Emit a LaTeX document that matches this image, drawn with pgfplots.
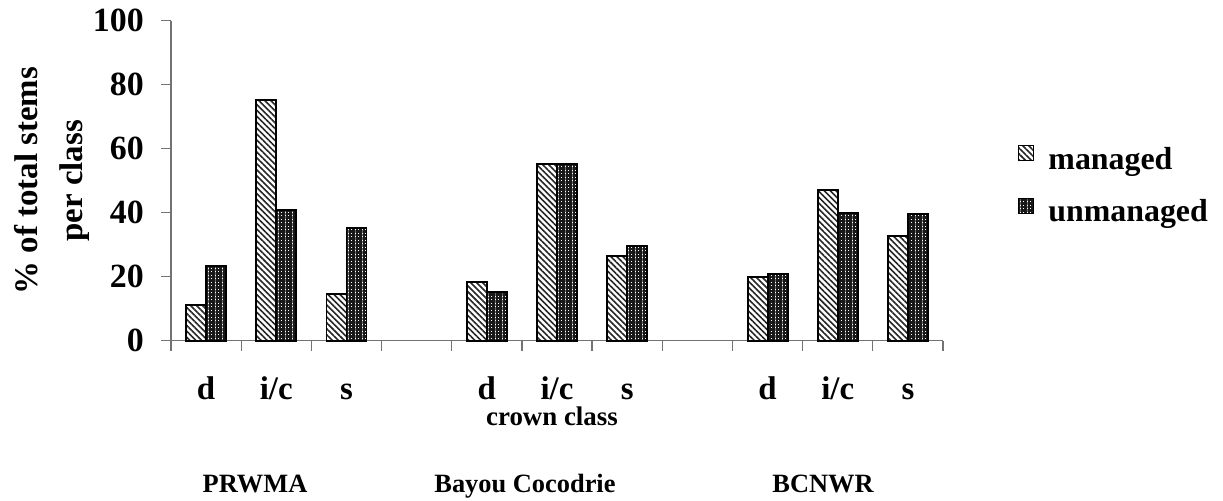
\documentclass[border=0pt]{standalone}
\usepackage{fontspec}
\setmainfont{Liberation Serif}
\usepackage{pgfplots}
\pgfplotsset{compat=1.18}
\usetikzlibrary{patterns.meta}
\begin{document}
\begin{tikzpicture}
\begin{axis}[
  at={(171bp,-340.7bp)}, anchor=south west,
  scale only axis, width=772bp, height=320bp,
  xmin=-0.5, xmax=10.5, ymin=0, ymax=100,
  clip=false,
  axis x line=bottom, axis y line=left,
  axis line style={draw=black!55, line width=1.3bp, -},
  ybar=0pt, bar width=20bp,
  ytick={0,20,...,100},
  xtick={0,1,2,4,5,6,8,9,10},
  xticklabels={d,i/c,s,d,i/c,s,d,i/c,s},
  minor xtick={-0.5,0.5,...,10.5},
  major x tick style={draw=none},
  tick align=outside, major tick length=10bp, minor tick length=10bp,
  tick style={draw=black!55, line width=1.3bp},
  /pgf/number format/assume math mode=true,
  xticklabel style={anchor=base, yshift=-49bp, inner sep=0pt, font=\fontsize{33}{36}\selectfont\bfseries},
  yticklabel style={anchor=east, inner sep=0pt, xshift=-17bp, font=\fontsize{34}{40}\selectfont\bfseries},
  ylabel={\% of total stems\\per class},
  ylabel style={align=center, inner sep=0pt, at={(axis description cs:-0.1049,0.5)}, anchor=south, font=\fontsize{33}{45}\selectfont\bfseries},
  xlabel={crown class},
  xlabel style={at={(axis description cs:0.4935,0)}, anchor=base, yshift=-85bp, inner sep=0pt, font=\fontsize{27}{30}\selectfont\bfseries},
  legend style={at={(axis description cs:1.0972,0.4897)}, anchor=west, draw=none, fill=none,
    font=\fontsize{32}{36}\selectfont\bfseries, row sep=27bp, column sep=14bp, inner sep=0pt,
    nodes={inner sep=0pt}},
  legend cell align=left,
  legend image code/.code={\draw[#1, line width=1.2bp] (0bp,-2bp) rectangle (15bp,13bp);},
]
\addplot[draw=black, line width=1.9bp, pattern={Lines[angle=-45,distance=4.2bp,line width=1.6bp]}, pattern color=black!85]
  coordinates {(0,11.2) (1,75.2) (2,14.6) (4,18.3) (5,55.2) (6,26.6) (8,20.0) (9,47.1) (10,32.8)};
\addplot[draw=black, line width=1.9bp, pattern={Hatch[angle=0,distance=3.5bp,line width=2.3bp]}, pattern color=black!90]
  coordinates {(0,23.3) (1,40.8) (2,35.3) (4,15.2) (5,55.2) (6,29.6) (8,20.8) (9,40.0) (10,39.5)};
\legend{managed, unmanaged}
\node[anchor=base, inner sep=0pt, font=\fontsize{26.5}{30}\selectfont\bfseries] at (axis cs:0.697,-47.3) {PRWMA};
\node[anchor=base, inner sep=0pt, font=\fontsize{26.5}{30}\selectfont\bfseries] at (axis cs:4.544,-47.3) {Bayou Cocodrie};
\node[anchor=base, inner sep=0pt, font=\fontsize{26.5}{30}\selectfont\bfseries] at (axis cs:8.79,-47.3) {BCNWR};
\end{axis}
\pgfresetboundingbox
\path[use as bounding box] (0bp,0bp) rectangle (1223bp,-501bp);
\end{tikzpicture}
\end{document}
